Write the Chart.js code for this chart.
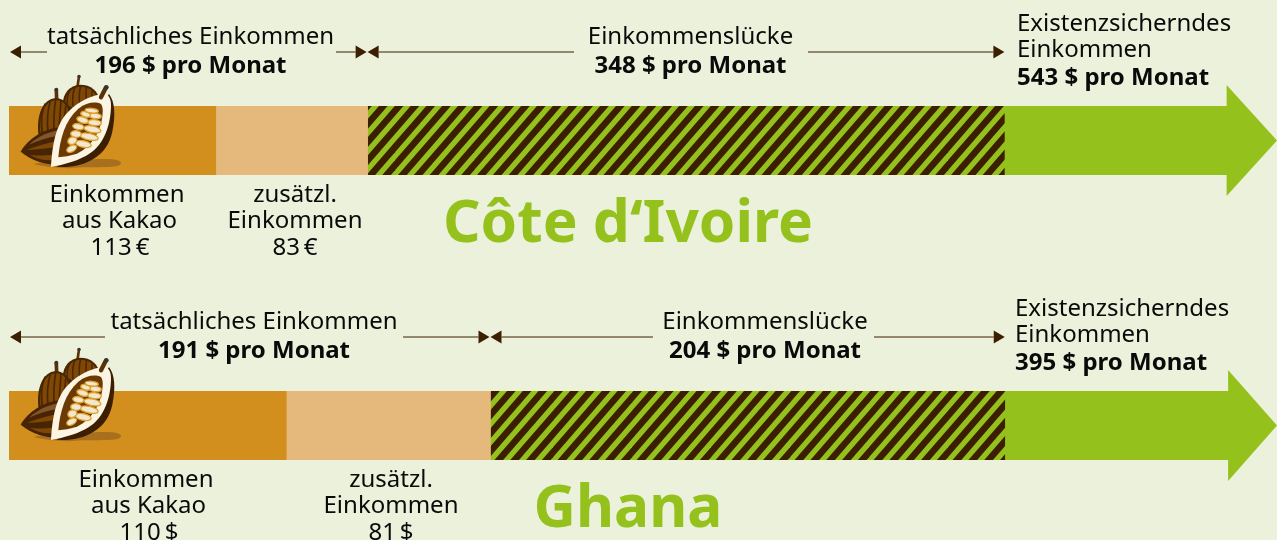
<!DOCTYPE html>
<html lang="de">
<head>
<meta charset="utf-8">
<title>Einkommenslücke Kakao</title>
<script src="https://cdn.jsdelivr.net/npm/chart.js@4"></script>
<style>
html,body{margin:0;padding:0;background:#ecf1db;width:1277px;height:540px;overflow:hidden}
canvas{display:block}
</style>
</head>
<body>
<canvas id="c0" width="1277" height="285"></canvas>
<canvas id="c1" width="1277" height="255"></canvas>
<script>
// ---- data ----
const countries    = ['Côte d‘Ivoire', 'Ghana'];
const cacaoIncome  = [113, 110];
const extraIncome  = [83, 81];
const incomeGap    = [348, 204];
const actualIncome = [196, 191];
const livingIncome = [543, 395];
const cacaoUnit    = ['€', '$'];
const arrowShaft   = [122, 89];   // length of the green arrow's shaft beyond the living income
const axisMax      = [693, 503];

// ---- layout of the annotations (pixels per panel) ----
const layouts = [
  {actual:190.5, gap:690.5, exist:1017, cacao:117, extra:295, gapsA:[47,336], gapsB:[574,808], title:628, stripe:378.7},
  {actual:254,   gap:765,   exist:1015, cacao:146, extra:391, gapsA:[105,403], gapsB:[653,874], title:628, stripe:933.3}
];
const BG='#ecf1db', ORANGE='#d38f1d', SAND='#e5b97b', GREEN='#94c11c', BROWN='#3c1e00', INK='#0a0a0a';
const FONT='"Noto Sans"';

function stripes(x0){
  const PX=15.8, PY=18.2, W=79, H=91, c=document.createElement('canvas'); c.width=W; c.height=H;
  const g=c.getContext('2d'), y0=175, half=0.225;
  g.fillStyle=BROWN; g.fillRect(0,0,W,H);
  g.fillStyle=GREEN;
  const xAt=(u,y)=>x0+PX*(u-(y-y0)/PY);
  for(let k=-80;k<80;k++){
    g.beginPath();
    g.moveTo(xAt(k-half,-1),-1); g.lineTo(xAt(k+half,-1),-1);
    g.lineTo(xAt(k+half,H+1),H+1); g.lineTo(xAt(k-half,H+1),H+1);
    g.closePath(); g.fill();
  }
  return c;
}

function cocoa(g, ox, oy){
  // decorative illustration, sketched in a 3x grid
  g.save(); g.translate(ox,oy); g.scale(1/3,1/3);
  const shape=(fill,d)=>{g.fillStyle=fill; g.fill(new Path2D(d));};
  const line=(col,w,d)=>{g.strokeStyle=col; g.lineWidth=w; g.lineCap='round'; g.stroke(new Path2D(d));};
  // shadow
  g.fillStyle='#a8701e';
  g.fill(new Path2D('M55 282 C100 292 150 298 200 292 C250 290 318 296 318 280 C318 266 280 266 240 268 L100 272 Z'));
  // back pods
  line('#5a3208',8,'M187 62 C187 45 190 35 192 20');
  g.fillStyle='#3a3430'; g.beginPath(); g.arc(192,19,5,0,7); g.fill();
  shape('#4a2703','M143 105 C143 68 165 46 195 44 C228 44 250 62 255 95 L200 140 Z');
  shape('#7f4706','M150 100 C152 70 170 52 195 50 C222 50 242 65 248 90 L200 130 Z');
  ['M165 60 C156 75 155 90 157 112','M180 52 C172 68 172 88 174 108','M197 48 C192 65 192 85 194 108','M214 52 C213 62 213 78 214 96','M231 64 C232 72 231 80 229 88'].forEach(d=>line('#4a2703',4.5,d));
  line('#5a3208',11,'M125 90 L124 62');
  g.fillStyle='#3a3430'; g.beginPath(); g.arc(124,59,6,0,7); g.fill();
  shape('#4a2703','M70 192 C64 130 85 88 122 84 C152 86 168 110 168 140 L130 195 L80 200 Z');
  shape('#804805','M76 186 C72 132 90 94 122 90 C148 92 162 112 162 140 L128 190 L82 194 Z');
  ['M90 102 C80 125 78 160 82 188','M106 93 C98 120 96 160 99 188','M122 90 C117 118 116 158 117 186','M138 94 C136 115 134 150 132 178','M152 108 C152 120 150 135 146 152'].forEach(d=>line('#4a2703',5,d));
  // lying pod
  shape('#472403','M17 245 C40 205 90 175 135 172 L150 282 C110 288 60 280 17 245 Z');
  shape('#85552a','M42 224 C70 198 105 184 133 180 L128 198 C100 202 70 212 42 224 Z');
  shape('#7f4706','M36 240 C70 226 105 217 130 214 L130 230 C100 234 70 238 36 240 Z');
  shape('#7f4706','M45 254 C75 258 105 258 130 250 L130 268 C100 275 70 270 45 254 Z');
  // open pod: shell
  shape('#3c1e00','M125 290 C195 296 275 268 292 185 C302 135 300 95 282 72 L200 200 Z');
  shape('#fdf5e4','M108 291 C112 230 120 165 160 125 C195 90 235 75 265 72 C282 72 289 88 288 110 C286 175 262 232 212 258 C178 276 145 284 108 291 Z');
  shape('#6b3a03','M130 262 C134 210 150 150 190 116 C215 97 240 94 258 102 C264 112 264 122 262 140 C255 190 225 235 180 253 C165 258 148 260 130 262 Z');
  // open pod: seeds (drawn bottom-up so every seed shows its lower arc)
  [[170,236,16,9,-.5],[205,222,24,10,.2],[172,212,14,11,-.5],[222,200,28,10,.2],[183,192,16,10,.1],[232,178,26,10,.2],[190,170,17,9,.2],[238,158,21,9,.1],[203,150,18,9,.3],[240,138,19,8,.1],[212,133,15,8,.3],[230,122,20,7,.1]].forEach(s=>{
    g.beginPath(); g.ellipse(s[0],s[1],s[2],s[3],s[4],0,7);
    g.fillStyle='#f2e8cd'; g.fill(); g.strokeStyle='#e0a030'; g.lineWidth=4; g.stroke();
  });
  // stem
  line('#5a3208',13,'M258 82 L272 54');
  g.fillStyle='#3a3430'; g.beginPath(); g.arc(274,52,7,0,7); g.fill();
  g.restore();
}

const annotate={
  id:'annotate',
  afterDatasetsDraw(chart){
    const i=chart.options.plugins.annotate.index, L=layouts[i], g=chart.ctx, x=chart.scales.x;
    const tip0=x.getPixelForValue(0)+1, t1=x.getPixelForValue(actualIncome[i]), t2=x.getPixelForValue(actualIncome[i]+incomeGap[i]);
    // green arrow head, attached to the end of the last bar
    const bar=chart.getDatasetMeta(3).data[0];
    g.save();
    g.fillStyle=GREEN; g.beginPath();
    g.moveTo(bar.x-1,85); g.lineTo(chart.chartArea.right,140.5); g.lineTo(bar.x-1,196); g.closePath(); g.fill();
    // dimension arrows
    const Y=52, H=11, W=6.5;
    const head=(tip,dir)=>{g.fillStyle=BROWN; g.beginPath(); g.moveTo(tip,Y); g.lineTo(tip+dir*H,Y-W); g.lineTo(tip+dir*H,Y+W); g.closePath(); g.fill();};
    const seg=(a,b)=>{g.strokeStyle='#3c1e00'; g.lineWidth=1; g.beginPath(); g.moveTo(a,Y); g.lineTo(b,Y); g.stroke();};
    head(tip0,1); seg(tip0+H,L.gapsA[0]);
    seg(L.gapsA[1],t1-1-H); head(t1-1,-1);
    head(t1,1); seg(t1+H,L.gapsB[0]);
    seg(L.gapsB[1],t2-H); head(t2,-1);
    // text
    const text=(s,px,y,al,b)=>{g.font=(b?'700 ':'400 ')+'24px '+FONT; g.textAlign=al; g.textBaseline='alphabetic'; g.fillStyle=INK; g.fillText(s,px,y);};
    text('tatsächliches Einkommen',L.actual,44,'center');
    text(actualIncome[i]+' $ pro Monat',L.actual,73,'center',true);
    text('Einkommenslücke',L.gap,44,'center');
    text(incomeGap[i]+' $ pro Monat',L.gap,73,'center',true);
    text('Existenzsicherndes',L.exist,31,'left');
    text('Einkommen',L.exist,57,'left');
    text(livingIncome[i]+' $ pro Monat',L.exist,85,'left',true);
    text('Einkommen',L.cacao,202,'center');
    text('aus Kakao',L.cacao+2.5,228,'center');
    text(cacaoIncome[i]+'\u2009'+cacaoUnit[i],L.cacao+3,255,'center');
    text('zusätzl.',L.extra,202,'center');
    text('Einkommen',L.extra,228,'center');
    text(extraIncome[i]+'\u2009'+cacaoUnit[i],L.extra,255,'center');
    g.font='700 58.6px '+FONT; g.textAlign='center'; g.fillStyle='#94c11c';
    g.fillText(countries[i],L.title,242);
    cocoa(g,15,i===0?70:58);
    g.restore();
  }
};

countries.forEach((name,i)=>{
  const h=i===0?285:255;
  const g=document.getElementById('c'+i).getContext('2d');
  const ds=(label,v,color)=>({label,data:[v],backgroundColor:color,borderWidth:0,stack:'s',barPercentage:1,categoryPercentage:1});
  new Chart(g,{
    type:'bar',
    data:{labels:[name],datasets:[
      ds('Einkommen aus Kakao',cacaoIncome[i],ORANGE),
      ds('zusätzl. Einkommen',extraIncome[i],SAND),
      ds('Einkommenslücke',incomeGap[i],g.createPattern(stripes(layouts[i].stripe),'repeat')),
      ds('Existenzsicherndes Einkommen',arrowShaft[i],GREEN)
    ]},
    options:{
      indexAxis:'y',responsive:false,animation:false,
      layout:{padding:{left:9,right:0,top:106,bottom:h-175}},
      scales:{
        x:{display:false,stacked:true,min:0,max:axisMax[i]},
        y:{display:false,stacked:true}
      },
      plugins:{legend:{display:false},tooltip:{enabled:false},annotate:{index:i}}
    },
    plugins:[annotate]
  });
});
</script>
</body>
</html>
